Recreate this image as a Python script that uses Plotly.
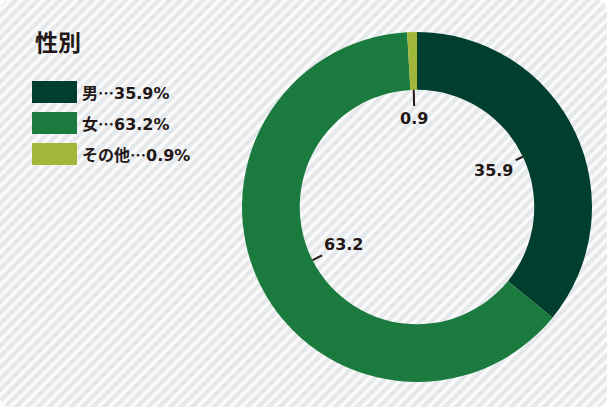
import math
import plotly.graph_objects as go

# Data
categories = ["男", "女", "その他"]
shares = [35.9, 63.2, 0.9]
colors = ["#003f2d", "#1b7b3e", "#a0b73b"]
title_text = "性別"

W, H = 607, 407
FONT = "DejaVu Sans, Noto Sans CJK JP"
CJK = "Noto Sans CJK JP"
TEXT_COLOR = "#231815"

# Donut placement in pixels
cx, cy, r_out = 417, 207, 175
hole = 0.67
r_in = r_out * hole


def px(x):
    return x / W


def py(y):
    return 1 - y / H


fig = go.Figure()
fig.add_trace(go.Pie(
    labels=categories,
    values=shares,
    sort=False,
    direction="clockwise",
    rotation=0,
    hole=hole,
    marker=dict(colors=colors, line=dict(width=0)),
    textinfo="none",
    hoverinfo="label+percent",
    showlegend=False,
    domain=dict(x=[px(cx - r_out), px(cx + r_out)],
                y=[py(cy + r_out), py(cy - r_out)]),
))

shapes = []
# Diagonal striped background
step = 11
c = -H
while c < W + step:
    shapes.append(dict(type="line", xref="paper", yref="paper", layer="below",
                       x0=px(c), y0=py(H + 5), x1=px(c + H + 10), y1=py(-5),
                       line=dict(color="#e6e9eb", width=4.5)))
    c += step

# White mask outside a rounded frame
rr = 12
frame = (f"M0,0 L{W},0 L{W},{H} L0,{H} Z "
         f"M{rr},0 L{W - rr},0 Q{W},0 {W},{rr} L{W},{H - rr} Q{W},{H} {W - rr},{H} "
         f"L{rr},{H} Q0,{H} 0,{H - rr} L0,{rr} Q0,0 {rr},0 Z")
shapes.append(dict(type="path", xref="x", yref="y", layer="below", path=frame,
                   fillcolor="white", fillrule="evenodd", line=dict(width=0)))

annotations = []
# Title
annotations.append(dict(x=px(33), y=py(41), xref="paper", yref="paper",
                        xanchor="left", yanchor="middle", showarrow=False,
                        text=f"<b>{title_text}</b>",
                        font=dict(family=CJK, size=23, color=TEXT_COLOR)))

# Legend swatches and entries
sw_x0, sw_x1, sw_h = 32, 77, 22
row_top = [81, 112, 143]
for name, val, col, top in zip(categories, shares, colors, row_top):
    shapes.append(dict(type="rect", xref="x", yref="y", layer="above",
                       x0=sw_x0, x1=sw_x1, y0=top, y1=top + sw_h,
                       fillcolor=col, line=dict(width=0)))
    annotations.append(dict(x=px(sw_x1 + 3), y=py(top + sw_h / 2), xref="paper", yref="paper",
                            xanchor="left", yanchor="middle", showarrow=False,
                            text=(f"<span style='font-family:{CJK}'>{name}…</span>"
                                  f"{val:.1f}%"),
                            font=dict(family=FONT, size=16, color=TEXT_COLOR, weight=600)))

# Value labels inside the hole, with leader lines to the inner edge
total = sum(shares)
cum = 0.0
label_r = [85, 82, 89]
for val, lr in zip(shares, label_r):
    mid = (cum + val / 2) / total * 2 * math.pi
    cum += val
    ex, ey = cx + r_in * math.sin(mid), cy - r_in * math.cos(mid)
    tx, ty = cx + lr * math.sin(mid), cy - lr * math.cos(mid)
    annotations.append(dict(x=ex, y=ey, xref="x", yref="y",
                            ax=tx, ay=ty, axref="x", ayref="y",
                            showarrow=True, arrowhead=0, arrowwidth=2,
                            arrowcolor=TEXT_COLOR, standoff=0, startstandoff=1,
                            text=f"{val:.1f}",
                            font=dict(family=FONT, size=16, color=TEXT_COLOR, weight=600)))

fig.update_layout(
    width=W, height=H,
    margin=dict(l=0, r=0, t=0, b=0),
    paper_bgcolor="#fbfbfc",
    plot_bgcolor="rgba(0,0,0,0)",
    xaxis=dict(range=[0, W], visible=False, fixedrange=True),
    yaxis=dict(range=[H, 0], visible=False, fixedrange=True),
    shapes=shapes,
    annotations=annotations,
    showlegend=False,
)

fig.write_html("out.html")
